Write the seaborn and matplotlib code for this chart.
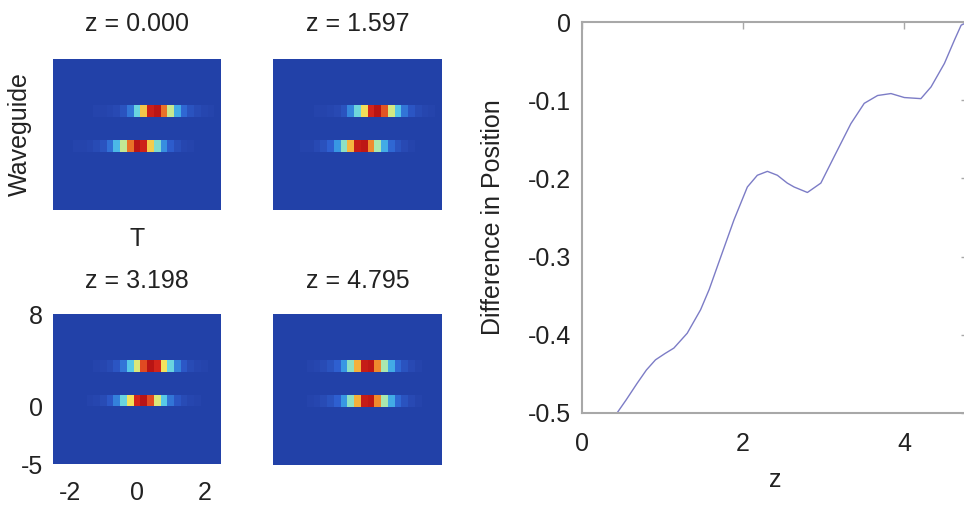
import numpy as np
import pandas as pd
import matplotlib
matplotlib.use("Agg")
import matplotlib.pyplot as plt
from matplotlib.colors import LinearSegmentedColormap
import seaborn as sns

# ---- data -------------------------------------------------------------
# Pulse-time grid (cell centres) and waveguide rows (top to bottom)
t_grid = [-2.4, -2.2, -2.0, -1.8, -1.6, -1.4, -1.2, -1.0, -0.8, -0.6, -0.4, -0.2,
          0.0, 0.2, 0.4, 0.6, 0.8, 1.0, 1.2, 1.4, 1.6, 1.8, 2.0, 2.2, 2.4]
waveguides = [7.5, 6.5, 5.5, 4.5, 3.5, 2.5, 1.5, 0.5, -0.5, -1.5, -2.5, -3.5, -4.5]
background = 0.03

z_titles = ["z = 0.000", "z = 1.597", "z = 3.198", "z = 4.795"]

# intensity along T in the two excited waveguides (3.5 = upper, 0.5 = lower)
upper_z0 = [0.03, 0.03, 0.03, 0.03, 0.03, 0.03, 0.04, 0.04, 0.05, 0.06, 0.10, 0.20,
            0.40, 0.68, 0.93, 0.99, 0.80, 0.55, 0.32, 0.17, 0.10, 0.07, 0.05, 0.04, 0.03]
lower_z0 = [0.03, 0.03, 0.03, 0.04, 0.04, 0.05, 0.07, 0.10, 0.19, 0.34, 0.54, 0.80,
            0.99, 0.92, 0.67, 0.43, 0.26, 0.14, 0.08, 0.05, 0.04, 0.03, 0.03, 0.03, 0.03]
upper_z1 = [0.03, 0.03, 0.03, 0.03, 0.03, 0.03, 0.04, 0.04, 0.05, 0.06, 0.10, 0.24,
            0.41, 0.64, 0.90, 1.00, 0.83, 0.57, 0.36, 0.20, 0.11, 0.07, 0.05, 0.04, 0.03]
lower_z1 = [0.03, 0.03, 0.03, 0.03, 0.04, 0.04, 0.06, 0.09, 0.15, 0.28, 0.46, 0.71,
            0.95, 0.98, 0.77, 0.50, 0.32, 0.17, 0.10, 0.06, 0.04, 0.03, 0.03, 0.03, 0.03]
upper_z2 = [0.03, 0.03, 0.03, 0.03, 0.03, 0.03, 0.04, 0.05, 0.07, 0.11, 0.20, 0.37,
            0.58, 0.84, 1.00, 0.90, 0.63, 0.40, 0.23, 0.12, 0.07, 0.05, 0.04, 0.03, 0.03]
lower_z2 = [0.03, 0.03, 0.03, 0.03, 0.03, 0.04, 0.05, 0.07, 0.12, 0.23, 0.40, 0.63,
            0.90, 1.00, 0.84, 0.58, 0.37, 0.20, 0.11, 0.07, 0.05, 0.04, 0.03, 0.03, 0.03]
upper_z3 = [0.03, 0.03, 0.03, 0.03, 0.03, 0.04, 0.05, 0.07, 0.10, 0.15, 0.28, 0.46,
            0.72, 0.95, 0.98, 0.77, 0.50, 0.32, 0.17, 0.10, 0.06, 0.04, 0.03, 0.03, 0.03]
lower_z3 = [0.03, 0.03, 0.03, 0.03, 0.03, 0.04, 0.05, 0.07, 0.10, 0.15, 0.28, 0.46,
            0.72, 0.95, 0.98, 0.77, 0.50, 0.32, 0.17, 0.10, 0.06, 0.04, 0.03, 0.03, 0.03]

upper_rows = [upper_z0, upper_z1, upper_z2, upper_z3]
lower_rows = [lower_z0, lower_z1, lower_z2, lower_z3]

# difference in pulse position between the two waveguides along z
z_vals = [0.0, 0.2, 0.435, 0.55, 0.685, 0.8, 0.913, 1.03, 1.141, 1.307, 1.473, 1.58,
          1.68, 1.888, 2.054, 2.178, 2.303, 2.427, 2.55, 2.635, 2.80, 2.967, 3.133,
          3.34, 3.506, 3.672, 3.838, 4.004, 4.21, 4.336, 4.502, 4.627, 4.71, 4.795]
diff_vals = [-0.5, -0.5, -0.5, -0.483, -0.462, -0.445, -0.432, -0.424, -0.417, -0.398,
             -0.368, -0.342, -0.313, -0.253, -0.211, -0.196, -0.191, -0.196, -0.206,
             -0.211, -0.218, -0.206, -0.172, -0.130, -0.104, -0.094, -0.0915, -0.0966,
             -0.098, -0.083, -0.053, -0.023, -0.004, 0.0]

# ---- style ------------------------------------------------------------
sns.set_theme(style="white")
plt.rcParams["font.family"] = ["Liberation Sans", "DejaVu Sans"]
plt.rcParams["font.size"] = 18
text_color = "#222222"

jet_soft = LinearSegmentedColormap.from_list(
    "jet_soft",
    [(0.00, "#1d3a9e"), (0.05, "#2747b0"), (0.15, "#2e5fd0"), (0.30, "#3aa0e6"),
     (0.38, "#5cd0e8"), (0.50, "#a8e8b0"), (0.62, "#f3e860"), (0.75, "#f4a030"),
     (0.88, "#d8281c"), (1.00, "#b81414")])

fig = plt.figure(figsize=(9.64, 5.05), dpi=100)
W, H = 964, 505


def px_axes(left, top, right, bottom):
    return fig.add_axes([left / W, 1 - bottom / H, (right - left) / W, (bottom - top) / H])


panel_boxes = [(53, 59, 221, 210), (273, 59, 442, 210),
               (53, 314, 221, 464), (273, 314, 442, 465)]
title_pads = [20, 20, 19, 19]

for k, box in enumerate(panel_boxes):
    ax = px_axes(*box)
    field = pd.DataFrame(background, index=waveguides, columns=t_grid)
    field.loc[3.5] = upper_rows[k]
    field.loc[0.5] = lower_rows[k]
    sns.heatmap(field, ax=ax, cmap=jet_soft, vmin=0, vmax=1, cbar=False,
                xticklabels=False, yticklabels=False)
    ax.set_title(z_titles[k], fontsize=18, color=text_color, pad=title_pads[k])
    ax.set_xlabel("")
    ax.set_ylabel("")
    if k == 0:
        ax.set_ylabel("Waveguide", fontsize=18, color=text_color)
        ax.yaxis.set_label_coords(-0.125, 0.5)
        ax.set_xlabel("T", fontsize=18, color=text_color)
        ax.xaxis.set_label_coords(0.5, -0.115)
    if k == 2:
        t_ticks = [-2, 0, 2]
        w_ticks = [8, 0, -5]
        ax.set_xticks([(t + 2.5) / 0.2 for t in t_ticks])
        ax.set_xticklabels([str(t) for t in t_ticks])
        ax.set_yticks([8 - w for w in w_ticks])
        ax.set_yticklabels([str(w) for w in w_ticks], rotation=0)
        ax.tick_params(axis="x", length=0, pad=12, labelsize=18, labelcolor=text_color)
        ax.tick_params(axis="y", length=0, pad=7, labelsize=18, labelcolor=text_color)

# ---- line panel -------------------------------------------------------
ax = px_axes(582, 22, 968, 413)
sns.lineplot(x=z_vals, y=diff_vals, ax=ax, color="#7c7cc6", linewidth=1.0)
ax.set_xlim(0, 4.795)
ax.set_ylim(-0.5, 0)
ax.set_xticks([0, 2, 4])
ax.set_xticklabels(["0", "2", "4"])
ax.set_yticks([0, -0.1, -0.2, -0.3, -0.4, -0.5])
ax.set_yticklabels(["0", "-0.1", "-0.2", "-0.3", "-0.4", "-0.5"])
for s in ax.spines.values():
    s.set_color("#a8a8a8")
    s.set_linewidth(1.5)
ax.tick_params(direction="in", top=True, right=True, length=5, width=1,
               color="#a8a8a8", labelsize=18, labelcolor=text_color)
ax.tick_params(axis="x", pad=14)
ax.tick_params(axis="y", pad=8)
ax.set_xlabel("z", fontsize=18, color=text_color)
ax.xaxis.set_label_coords(0.5, -0.14)
ax.set_ylabel("Difference in Position", fontsize=18, color=text_color)
ax.yaxis.set_label_coords(-0.2, 0.5)

fig.savefig("out.png", dpi=100)
